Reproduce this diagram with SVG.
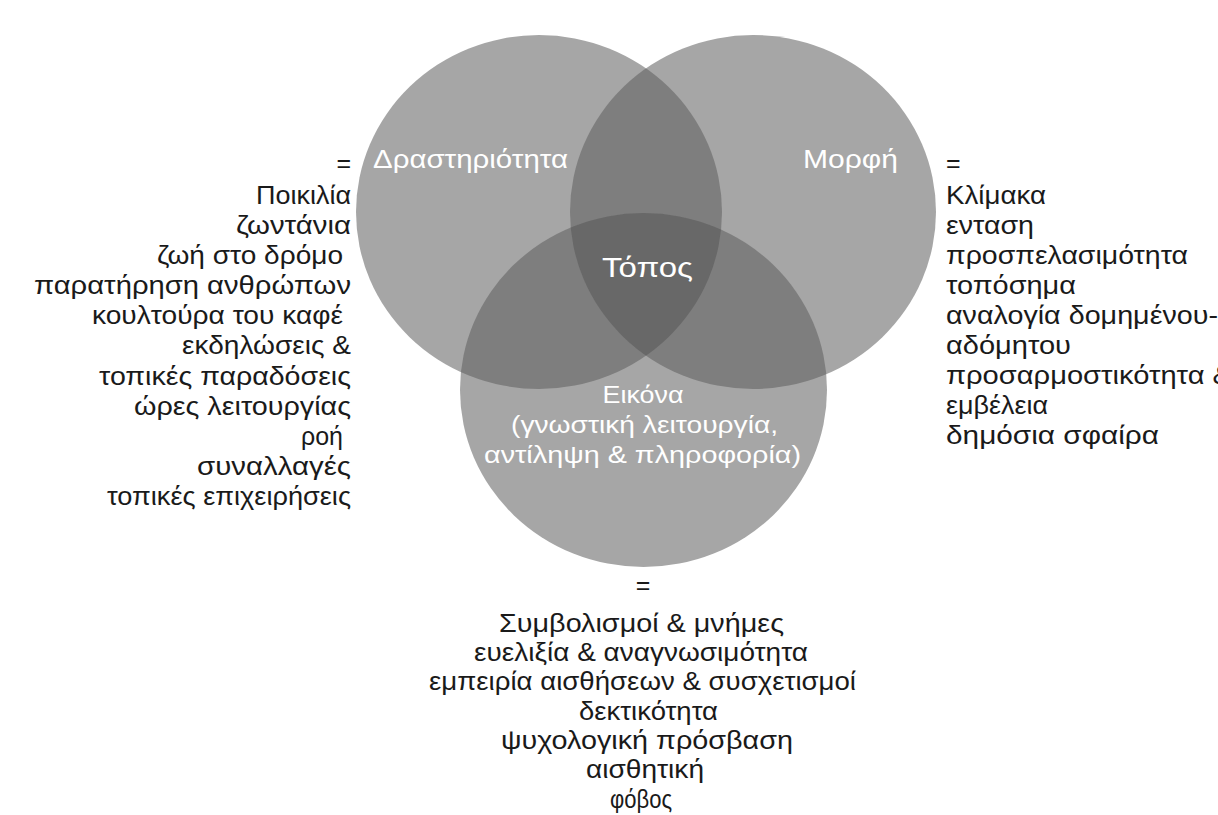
<svg xmlns="http://www.w3.org/2000/svg" width="1218" height="815" viewBox="0 0 1218 815">
<style>
  text { font-family: "Liberation Sans", Arial, sans-serif; font-size: 25px; }
  .dark { fill: #1a1a1a; }
  .white { fill: #ffffff; }
  .c1 { fill: #a6a6a6; }
  .c2 { fill: #7e7e7e; }
  .c3 { fill: #686868; }
  .end { text-anchor: end; }
  .mid { text-anchor: middle; }
</style>
<defs>
  <clipPath id="cL"><ellipse cx="539" cy="212" rx="183" ry="177"/></clipPath>
  <clipPath id="cR"><ellipse cx="753" cy="212" rx="183" ry="177"/></clipPath>
  <clipPath id="cB"><ellipse cx="643.5" cy="390" rx="183.5" ry="177"/></clipPath>
</defs>
<rect width="1218" height="815" fill="#ffffff"/>

<g id="circles">
  <ellipse id="circle-drastiriotita" class="c1" cx="539" cy="212" rx="183" ry="177"/>
  <ellipse id="circle-morfi" class="c1" cx="753" cy="212" rx="183" ry="177"/>
  <ellipse id="circle-eikona" class="c1" cx="643.5" cy="390" rx="183.5" ry="177"/>
</g>
<g id="overlaps">
  <g clip-path="url(#cL)"><ellipse class="c2" cx="753" cy="212" rx="183" ry="177"/></g>
  <g clip-path="url(#cL)"><ellipse class="c2" cx="643.5" cy="390" rx="183.5" ry="177"/></g>
  <g clip-path="url(#cR)"><ellipse class="c2" cx="643.5" cy="390" rx="183.5" ry="177"/></g>
  <g clip-path="url(#cL)"><g clip-path="url(#cR)"><ellipse class="c3" cx="643.5" cy="390" rx="183.5" ry="177"/></g></g>
</g>
<g id="connectors"/>

<g id="node-drastiriotita">
  <text class="white" x="373" y="168" textLength="195" lengthAdjust="spacingAndGlyphs">Δραστηριότητα</text>
</g>
<g id="node-morfi">
  <text class="white" x="803" y="168" textLength="95" lengthAdjust="spacingAndGlyphs">Μορφή</text>
</g>
<g id="node-topos">
  <text class="white" x="602" y="277" style="font-size:28px" textLength="91" lengthAdjust="spacingAndGlyphs">Τόπος</text>
</g>
<g id="node-eikona">
  <text class="white mid" x="643" y="403" style="font-size:23px" textLength="81" lengthAdjust="spacingAndGlyphs">Εικόνα</text>
  <text class="white mid" x="644.5" y="433" style="font-size:23px" textLength="267" lengthAdjust="spacingAndGlyphs">(γνωστική λειτουργία,</text>
  <text class="white mid" x="642.5" y="463" style="font-size:23px" textLength="317" lengthAdjust="spacingAndGlyphs">αντίληψη &amp; πληροφορία)</text>
</g>

<g id="list-drastiriotita">
  <text class="dark end" x="351" y="172">=</text>
  <text class="dark end" x="351" y="204" textLength="95" lengthAdjust="spacingAndGlyphs">Ποικιλία</text>
  <text class="dark end" x="351" y="234" textLength="115" lengthAdjust="spacingAndGlyphs">ζωντάνια</text>
  <text class="dark end" x="343" y="264" textLength="186" lengthAdjust="spacingAndGlyphs">ζωή στο δρόμο</text>
  <text class="dark end" x="351" y="294" textLength="317" lengthAdjust="spacingAndGlyphs">παρατήρηση ανθρώπων</text>
  <text class="dark end" x="343" y="324" textLength="251" lengthAdjust="spacingAndGlyphs">κουλτούρα του καφέ</text>
  <text class="dark end" x="351" y="354" textLength="169" lengthAdjust="spacingAndGlyphs">εκδηλώσεις &amp;</text>
  <text class="dark end" x="351" y="385" textLength="252" lengthAdjust="spacingAndGlyphs">τοπικές παραδόσεις</text>
  <text class="dark end" x="351" y="415" textLength="217" lengthAdjust="spacingAndGlyphs">ώρες λειτουργίας</text>
  <text class="dark end" x="343" y="445" textLength="42" lengthAdjust="spacingAndGlyphs">ροή</text>
  <text class="dark end" x="351" y="475" textLength="154" lengthAdjust="spacingAndGlyphs">συναλλαγές</text>
  <text class="dark end" x="351" y="505" textLength="244" lengthAdjust="spacingAndGlyphs">τοπικές επιχειρήσεις</text>
</g>

<g id="list-morfi">
  <text class="dark" x="946" y="172">=</text>
  <text class="dark" x="946" y="203.5" textLength="100" lengthAdjust="spacingAndGlyphs">Κλίμακα</text>
  <text class="dark" x="946" y="233.5" textLength="88" lengthAdjust="spacingAndGlyphs">ενταση</text>
  <text class="dark" x="946" y="263.5" textLength="242" lengthAdjust="spacingAndGlyphs">προσπελασιμότητα</text>
  <text class="dark" x="946" y="293.5" textLength="130" lengthAdjust="spacingAndGlyphs">τοπόσημα</text>
  <text class="dark" x="946" y="323.5" textLength="272" lengthAdjust="spacingAndGlyphs">αναλογία δομημένου-</text>
  <text class="dark" x="946" y="353.5" textLength="125" lengthAdjust="spacingAndGlyphs">αδόμητου</text>
  <text class="dark" x="946" y="383.5" textLength="286" lengthAdjust="spacingAndGlyphs">προσαρμοστικότητα &amp;</text>
  <text class="dark" x="946" y="413.5" textLength="102" lengthAdjust="spacingAndGlyphs">εμβέλεια</text>
  <text class="dark" x="946" y="443.5" textLength="213" lengthAdjust="spacingAndGlyphs">δημόσια σφαίρα</text>
</g>

<g id="list-eikona">
  <text class="dark mid" x="643" y="594">=</text>
  <text class="dark mid" x="641.5" y="632" textLength="285" lengthAdjust="spacingAndGlyphs">Συμβολισμοί &amp; μνήμες</text>
  <text class="dark mid" x="641" y="661" textLength="334" lengthAdjust="spacingAndGlyphs">ευελιξία &amp; αναγνωσιμότητα</text>
  <text class="dark mid" x="642.5" y="690" textLength="427" lengthAdjust="spacingAndGlyphs">εμπειρία αισθήσεων &amp; συσχετισμοί</text>
  <text class="dark mid" x="648.5" y="719.5" textLength="139" lengthAdjust="spacingAndGlyphs">δεκτικότητα</text>
  <text class="dark mid" x="647" y="749" textLength="292" lengthAdjust="spacingAndGlyphs">ψυχολογική πρόσβαση</text>
  <text class="dark mid" x="645" y="778" textLength="118" lengthAdjust="spacingAndGlyphs">αισθητική</text>
  <text class="dark mid" x="641" y="808" textLength="62" lengthAdjust="spacingAndGlyphs">φόβος</text>
</g>
</svg>
